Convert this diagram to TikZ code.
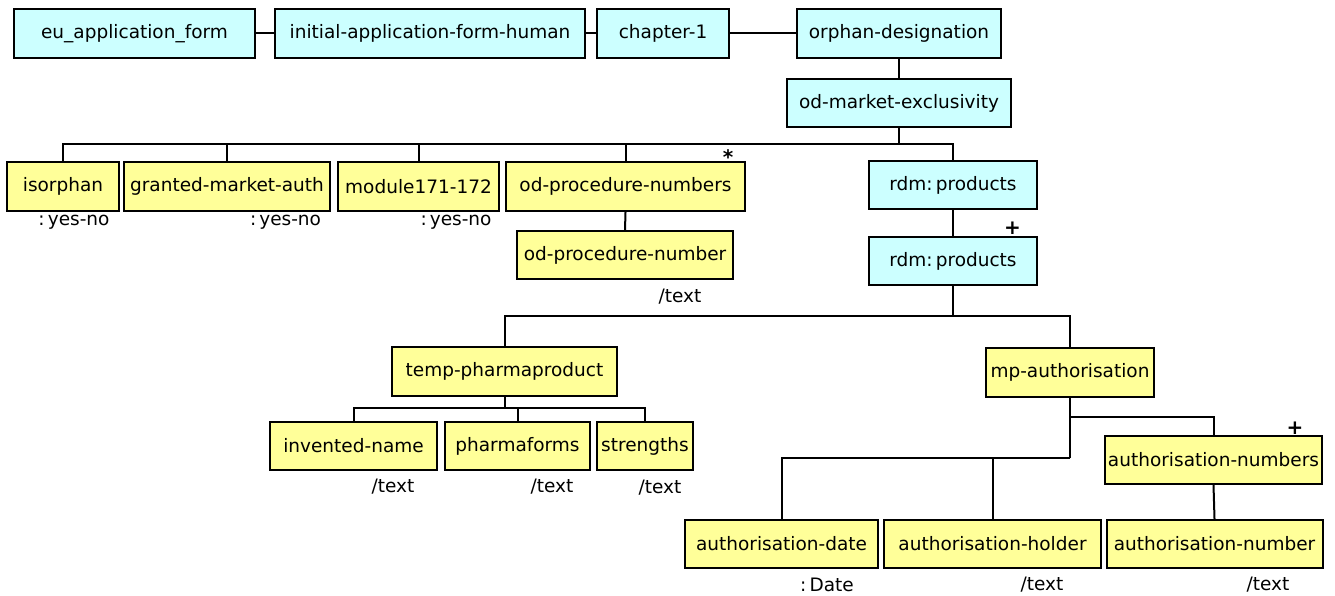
\documentclass[tikz,border=0pt]{standalone}
\usepackage{fontspec}
\setmainfont{DejaVu Sans}
\definecolor{elemcyan}{RGB}{204,255,255}
\definecolor{elemyellow}{RGB}{255,255,153}
\begin{document}
\begin{tikzpicture}[x=1pt,y=-1pt,
  every node/.style={font=\fontsize{18.5}{22}\selectfont},
  elem/.style={draw=black, line width=2pt, inner sep=0pt, align=center},
  cyanbox/.style={elem, fill=elemcyan},
  yellowbox/.style={elem, fill=elemyellow},
  typelabel/.style={inner sep=0pt, anchor=center},
  mult/.style={inner sep=0pt, font=\fontsize{20}{22}\selectfont\bfseries},
  link/.style={draw=black, line width=2pt}
]
\useasboundingbox (0,0) rectangle (1335,596);

% top chain
\node[cyanbox, minimum width=241pt, minimum height=49pt] (eu) at (134.5,33.5) {eu\_application\_form};
\node[cyanbox, minimum width=310pt, minimum height=49pt] (initial) at (430,33.5) {initial-application-form-human};
\node[cyanbox, minimum width=132pt, minimum height=49pt] (chapter) at (663,33.5) {chapter-1};
\node[cyanbox, minimum width=204pt, minimum height=49pt] (orphan) at (899,33.5) {orphan-designation};
\node[cyanbox, minimum width=224pt, minimum height=48pt] (odme) at (899,103) {od-market-exclusivity};

% children of od-market-exclusivity
\node[yellowbox, minimum width=112pt, minimum height=49pt] (isorphan) at (63,186.5) {isorphan};
\node[yellowbox, minimum width=206pt, minimum height=49pt] (granted) at (227,186.5) {granted-market-auth};
\node[yellowbox, minimum width=161pt, minimum height=49pt] (module) at (418.5,186.5) {module171-172};
\node[yellowbox, minimum width=239pt, minimum height=49pt] (odpn) at (625.5,186.5) {\raisebox{-4pt}{od-procedure-numbers}};
\node[cyanbox, minimum width=168pt, minimum height=48pt] (rdm1) at (953,185) {rdm:\,products};

\node[yellowbox, minimum width=216pt, minimum height=48pt] (odpnum) at (625,255) {\raisebox{-3pt}{od-procedure-number}};
\node[cyanbox, minimum width=168pt, minimum height=48pt] (rdm2) at (953,261) {rdm:\,products};

% product branch
\node[yellowbox, minimum width=225pt, minimum height=49pt] (temp) at (504.5,371.5) {temp-pharmaproduct};
\node[yellowbox, minimum width=167pt, minimum height=48pt] (invented) at (353.5,446) {\raisebox{-2pt}{invented-name}};
\node[yellowbox, minimum width=145pt, minimum height=48pt] (pharmaforms) at (517.5,446) {\raisebox{-2pt}{pharmaforms}};
\node[yellowbox, minimum width=96pt, minimum height=48pt] (strengths) at (645,446) {\raisebox{-2pt}{strengths}};

% authorisation branch
\node[yellowbox, minimum width=168pt, minimum height=49pt] (mpauth) at (1070,372.5) {mp-authorisation};
\node[yellowbox, minimum width=217pt, minimum height=48pt] (authnums) at (1213.5,460) {\raisebox{-2pt}{authorisation-numbers}};
\node[yellowbox, minimum width=193pt, minimum height=48pt] (authdate) at (781.5,544) {\raisebox{-2pt}{authorisation-date}};
\node[yellowbox, minimum width=217pt, minimum height=48pt] (authholder) at (992.5,544) {\raisebox{-2pt}{authorisation-holder}};
\node[yellowbox, minimum width=216pt, minimum height=48pt] (authnum) at (1214.5,544) {\raisebox{-2pt}{authorisation-number}};

% bus points
\coordinate (bus1) at (899,144);
\coordinate (bus2) at (953,316);
\coordinate (bus3) at (504.5,408);
\coordinate (bus4) at (1070,458);
\coordinate (bus5) at (1070,417);

% connectors
\draw[link] (eu.east) -- (initial.west);
\draw[link] (initial.east) -- (chapter.west);
\draw[link] (chapter.east) -- (orphan.west);
\draw[link] (orphan.south) -- (odme.north);
\draw[link] (odme.south) -- (bus1);
\draw[link] (bus1) -| (isorphan.north);
\draw[link] (bus1) -| (granted.north);
\draw[link] (bus1) -| (module.north);
\draw[link] (bus1) -| (odpn.north);
\draw[link] (bus1) -| (rdm1.north);
\draw[link] (odpn.south) -- (odpnum.north);
\draw[link] (rdm1.south) -- (rdm2.north);
\draw[link] (rdm2.south) -- (bus2);
\draw[link] (bus2) -| (temp.north);
\draw[link] (bus2) -| (mpauth.north);
\draw[link] (temp.south) -- (bus3);
\draw[link] (bus3) -| (invented.north);
\draw[link] (bus3) -| (pharmaforms.north);
\draw[link] (bus3) -| (strengths.north);
\draw[link] (mpauth.south) -- (bus4);
\draw[link] (bus4) -| (authdate.north);
\draw[link] (bus4) -| (authholder.north);
\draw[link] (bus5) -| (authnums.north);
\draw[link] (authnums.south) -- (authnum.north);

% multiplicities
\node[mult] (m1) at (728,157) {*};
\node[mult] (m2) at (1012.5,228) {+};
\node[mult] (m3) at (1295,428) {+};

% type labels
\node[typelabel] (t1) at (74,222) {:\,yes-no};
\node[typelabel] (t2) at (285.5,222) {:\,yes-no};
\node[typelabel] (t3) at (456,222) {:\,yes-no};
\node[typelabel] (t4) at (680,297) {/text};
\node[typelabel] (t5) at (393,487) {/text};
\node[typelabel] (t6) at (552,487) {/text};
\node[typelabel] (t7) at (660,488) {/text};
\node[typelabel] (t8) at (827,585) {:\,Date};
\node[typelabel] (t9) at (1042,585) {/text};
\node[typelabel] (t10) at (1268,585) {/text};
\end{tikzpicture}
\end{document}
